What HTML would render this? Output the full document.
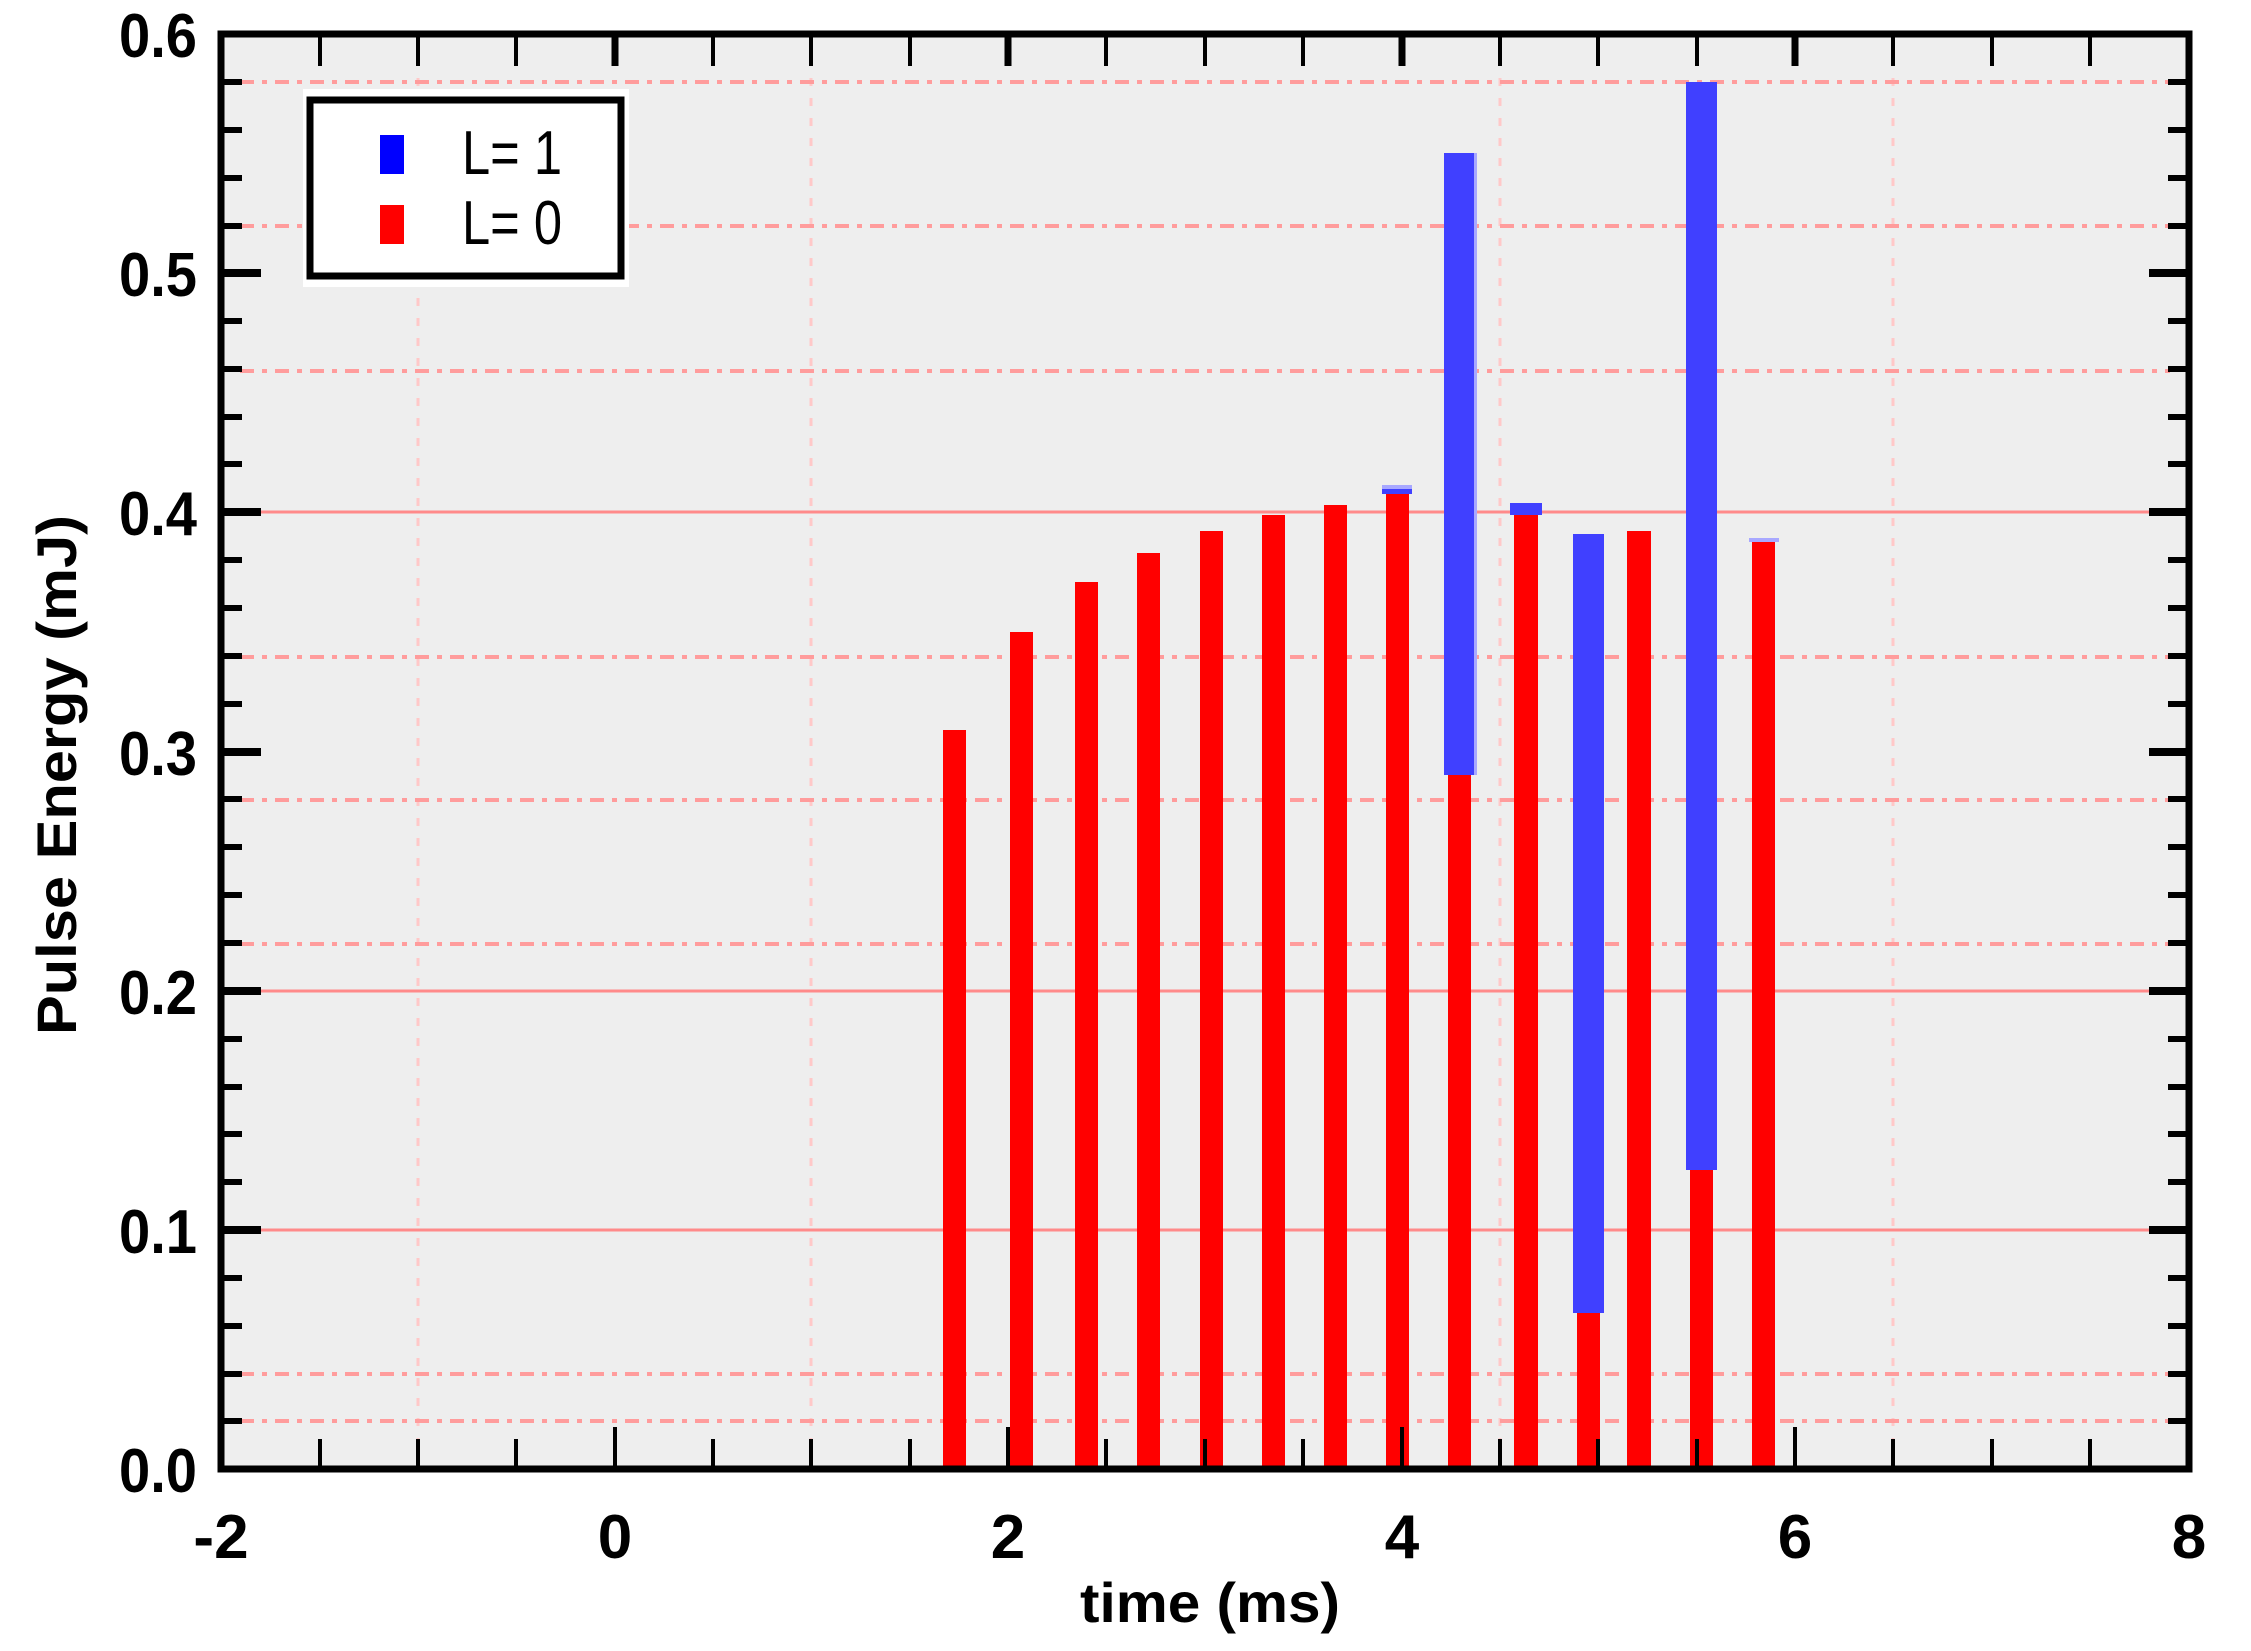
<!DOCTYPE html>
<html><head><meta charset="utf-8"><style>
html,body{margin:0;padding:0;background:#fff;}
svg{display:block;}
text{font-family:"Liberation Sans",Arial,sans-serif;}
</style></head><body>
<svg width="2251" height="1651" viewBox="0 0 2251 1651" xmlns="http://www.w3.org/2000/svg">
<rect x="221" y="34" width="1968" height="1435" fill="#eeeeee"/>
<!-- vertical dotted grid -->
<g stroke="#ffc8c8" stroke-width="3" stroke-dasharray="8,12">
<line x1="418" y1="38" x2="418" y2="1465"/>
<line x1="811" y1="38" x2="811" y2="1465"/>
<line x1="1500" y1="38" x2="1500" y2="1465"/>
<line x1="1893" y1="38" x2="1893" y2="1465"/>
</g>
<!-- horizontal dotted grid -->
<g stroke="#ff9c9c" stroke-width="4" stroke-dasharray="14,8,5,8">
<line x1="240" y1="82" x2="2170" y2="82"/>
<line x1="240" y1="226" x2="2170" y2="226"/>
<line x1="240" y1="371" x2="2170" y2="371"/>
<line x1="240" y1="657" x2="2170" y2="657"/>
<line x1="240" y1="800" x2="2170" y2="800"/>
<line x1="240" y1="944" x2="2170" y2="944"/>
<line x1="240" y1="1374" x2="2170" y2="1374"/>
<line x1="240" y1="1421" x2="2170" y2="1421"/>
</g>
<!-- solid grid -->
<g stroke="#ff8a8a" stroke-width="3">
<line x1="240" y1="512" x2="2170" y2="512"/>
<line x1="240" y1="991" x2="2170" y2="991"/>
<line x1="240" y1="1230" x2="2170" y2="1230"/>
</g>
<!-- red bars -->
<g fill="#ff0000">
<rect x="943" y="730" width="23" height="739"/>
<rect x="1010" y="632" width="23" height="837"/>
<rect x="1075" y="582" width="23" height="887"/>
<rect x="1137" y="553" width="23" height="916"/>
<rect x="1200" y="531" width="23" height="938"/>
<rect x="1262" y="515" width="23" height="954"/>
<rect x="1324" y="505" width="23" height="964"/>
<rect x="1386" y="493" width="23" height="976"/>
<rect x="1448" y="775" width="23" height="694"/>
<rect x="1514" y="512" width="24" height="957"/>
<rect x="1577" y="1313" width="23" height="156"/>
<rect x="1627" y="531" width="24" height="938"/>
<rect x="1690" y="1170" width="23" height="299"/>
<rect x="1752" y="542" width="23" height="927"/>
</g>
<!-- blue bars -->
<g fill="#4040ff">
<rect x="1444" y="153" width="30" height="622"/>
<rect x="1510" y="503" width="32" height="12"/>
<rect x="1573" y="534" width="31" height="779"/>
<rect x="1686" y="82" width="31" height="1088"/>
<rect x="1382" y="489" width="30" height="5"/>
</g>
<g fill="#a8a8ff">
<rect x="1749" y="538" width="30" height="4"/>
<rect x="1382" y="485" width="30" height="4"/>
<rect x="1474" y="153" width="3" height="622"/>
</g>
<!-- ticks -->
<g stroke="#000">
<!-- left/right minor -->
<g stroke-width="6">
<path d="M221 82h21M221 130h21M221 178h21M221 226h21M221 321h21M221 369h21M221 417h21M221 464h21M221 560h21M221 608h21M221 656h21M221 704h21M221 799h21M221 847h21M221 895h21M221 943h21M221 1039h21M221 1087h21M221 1134h21M221 1182h21M221 1278h21M221 1326h21M221 1374h21M221 1421h21"/>
<path d="M2189 82h-21M2189 130h-21M2189 178h-21M2189 226h-21M2189 321h-21M2189 369h-21M2189 417h-21M2189 464h-21M2189 560h-21M2189 608h-21M2189 656h-21M2189 704h-21M2189 799h-21M2189 847h-21M2189 895h-21M2189 943h-21M2189 1039h-21M2189 1087h-21M2189 1134h-21M2189 1182h-21M2189 1278h-21M2189 1326h-21M2189 1374h-21M2189 1421h-21"/>
</g>
<g stroke-width="8">
<path d="M221 273h40M221 512h40M221 752h40M221 991h40M221 1230h40"/>
<path d="M2189 273h-40M2189 512h-40M2189 752h-40M2189 991h-40M2189 1230h-40"/>
</g>
<!-- bottom ticks -->
<g stroke-width="4">
<path d="M320 1469v-30M418 1469v-30M516 1469v-30M713 1469v-30M811 1469v-30M910 1469v-30M1106 1469v-30M1205 1469v-30M1303 1469v-30M1500 1469v-30M1598 1469v-30M1697 1469v-30M1893 1469v-30M1992 1469v-30M2090 1469v-30"/>
<path d="M615 1469v-42M1008 1469v-42M1402 1469v-42M1795 1469v-42"/>
<path d="M320 34v32M418 34v32M516 34v32M713 34v32M811 34v32M910 34v32M1106 34v32M1205 34v32M1303 34v32M1500 34v32M1598 34v32M1697 34v32M1893 34v32M1992 34v32M2090 34v32"/>
</g>
<g stroke-width="7">
<path d="M615 34v32M1008 34v32M1402 34v32M1795 34v32"/>
</g>
</g>
<!-- frame -->
<rect x="221" y="34" width="1968" height="1435" fill="none" stroke="#000" stroke-width="7"/>
<!-- legend -->
<rect x="303" y="89" width="326" height="198" fill="#fff"/>
<rect x="310" y="100" width="311" height="176" fill="#fff" stroke="#000" stroke-width="7"/>
<rect x="380" y="135" width="24" height="39" fill="#0000ff"/>
<rect x="380" y="205" width="24" height="39" fill="#ff0000"/>
<text x="462" y="174" font-size="62" textLength="100" lengthAdjust="spacingAndGlyphs">L= 1</text>
<text x="462" y="244" font-size="62" textLength="100" lengthAdjust="spacingAndGlyphs">L= 0</text>
<!-- y labels -->
<g font-size="62" font-weight="bold" text-anchor="end">
<text x="197" y="57" textLength="78" lengthAdjust="spacingAndGlyphs">0.6</text>
<text x="197" y="296" textLength="78" lengthAdjust="spacingAndGlyphs">0.5</text>
<text x="197" y="535" textLength="78" lengthAdjust="spacingAndGlyphs">0.4</text>
<text x="197" y="775" textLength="78" lengthAdjust="spacingAndGlyphs">0.3</text>
<text x="197" y="1014" textLength="78" lengthAdjust="spacingAndGlyphs">0.2</text>
<text x="197" y="1253" textLength="78" lengthAdjust="spacingAndGlyphs">0.1</text>
<text x="197" y="1492" textLength="78" lengthAdjust="spacingAndGlyphs">0.0</text>
</g>
<!-- x labels -->
<g font-size="62" font-weight="bold" text-anchor="middle">
<text x="221" y="1558">-2</text>
<text x="615" y="1558">0</text>
<text x="1008" y="1558">2</text>
<text x="1402" y="1558">4</text>
<text x="1795" y="1558">6</text>
<text x="2189" y="1558">8</text>
</g>
<text x="1210" y="1622" font-size="56" font-weight="bold" text-anchor="middle" textLength="260" lengthAdjust="spacingAndGlyphs">time (ms)</text>
<text transform="translate(76,775) rotate(-90)" font-size="56" font-weight="bold" text-anchor="middle" textLength="520" lengthAdjust="spacingAndGlyphs">Pulse Energy (mJ)</text>
</svg>
</body></html>
